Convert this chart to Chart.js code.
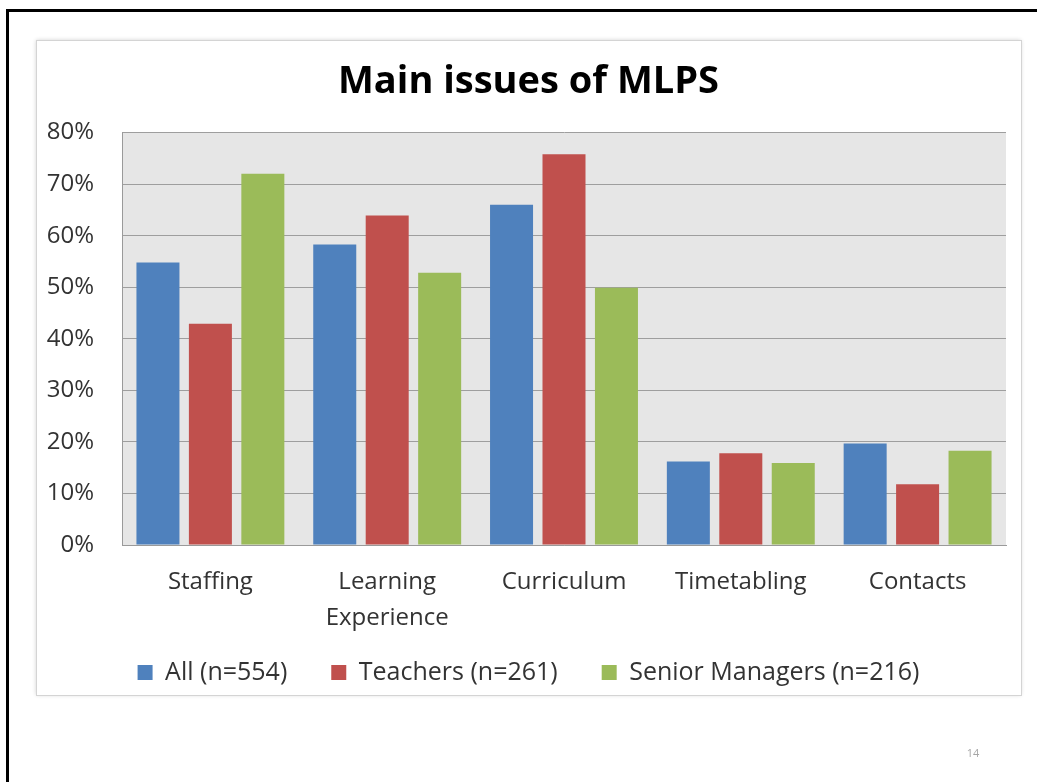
<!DOCTYPE html>
<html>
<head>
<title>Main issues of MLPS</title>
<script src="https://cdn.jsdelivr.net/npm/chart.js"></script>
<style>
  body { margin: 0; background: #fff; }
  #wrap { width: 1037px; height: 782px; position: relative; }
  #pageNo {
    position: absolute; left: 959px; top: 745px; width: 28px; text-align: center;
    font-family: "Open Sans", sans-serif; font-size: 11px; color: #a6a6a6;
  }
</style>
</head>
<body>
  <div id="wrap">
    <canvas id="issuesChart" width="1037" height="782"></canvas>
    <div id="pageNo">14</div>
  </div>

  <script>
    // Values (percent)
    const categories = [["Staffing"], ["Learning", "Experience"], ["Curriculum"], ["Timetabling"], ["Contacts"]];
    const allValues = [54.8, 58.3, 66, 16.2, 19.7];
    const teacherValues = [42.9, 63.9, 75.8, 17.8, 11.8];
    const managerValues = [72, 52.8, 49.9, 15.9, 18.3];
    const seriesNames = ["All (n=554)", "Teachers (n=261)", "Senior Managers (n=216)"];
    const yTicks = [0, 10, 20, 30, 40, 50, 60, 70, 80];

    const FONT = "'Open Sans', 'Noto Sans', sans-serif";

    // slide frame, chart box and grey plot background
    const backdrop = {
      id: 'backdrop',
      beforeDraw(chart) {
        const c = chart.ctx;
        const a = chart.chartArea;
        c.save();
        c.fillStyle = '#fff';
        c.fillRect(0, 0, chart.width, chart.height);

        // black slide outline (left + top only visible)
        c.fillStyle = '#000';
        c.fillRect(6, 9, 3, chart.height);
        c.fillRect(6, 9, chart.width, 3);

        // chart box with soft shadow
        c.shadowColor = 'rgba(0,0,0,0.18)';
        c.shadowBlur = 4;
        c.fillStyle = '#fff';
        c.fillRect(36, 40, 985, 655);
        c.shadowBlur = 0;
        c.strokeStyle = '#d4d4d4';
        c.lineWidth = 1;
        c.strokeRect(36.5, 40.5, 985, 655);

        c.fillStyle = '#e6e6e6';
        c.fillRect(a.left, a.top, a.right - a.left, a.bottom - a.top);
        c.restore();
      }
    };

    const ctx = document.getElementById("issuesChart").getContext("2d");

    const issuesChart = new Chart(ctx, {
      type: 'bar',
      data: {
        labels: categories,
        datasets: [
          { label: seriesNames[0], data: allValues, backgroundColor: '#4f81bd' },
          { label: seriesNames[1], data: teacherValues, backgroundColor: '#c0504d' },
          { label: seriesNames[2], data: managerValues, backgroundColor: '#9bbb59' }
        ]
      },
      options: {
        responsive: false,
        animation: false,
        layout: { padding: { left: 36, top: 40, right: 16, bottom: 87 } },
        datasets: {
          bar: { categoryPercentage: 0.89, barPercentage: 0.82, borderWidth: 0 }
        },
        plugins: {
          title: {
            display: true,
            text: 'Main issues of MLPS',
            color: '#000',
            font: { family: FONT, size: 38, weight: 'bold' },
            padding: { top: 19, bottom: 28 }
          },
          legend: {
            position: 'bottom',
            labels: {
              boxWidth: 15,
              boxHeight: 15,
              padding: 44,
              color: '#333',
              font: { family: FONT, size: 25 }
            }
          },
          tooltip: { enabled: false }
        },
        scales: {
          x: {
            grid: { display: false, drawTicks: false },
            border: { display: true, color: '#9a9a9a' },
            ticks: {
              color: '#333',
              padding: 19,
              maxRotation: 0,
              font: { family: FONT, size: 24, lineHeight: 1.5 }
            },
            afterFit: (s) => {
              s.height = 71;
              // two-line labels run into the legend's padding, don't clip them
              s._computeLabelArea = () => undefined;
            }
          },
          y: {
            min: 0,
            max: 80,
            afterBuildTicks: (s) => { s.ticks = yTicks.map(v => ({ value: v })); },
            grid: { color: '#9e9e9e', drawTicks: false },
            border: { display: true, color: '#9a9a9a' },
            ticks: {
              color: '#333',
              padding: 28,
              font: { family: FONT, size: 24 },
              callback: (v) => v + '%'
            },
            afterFit: (s) => { s.width = 86; }
          },
          yRight: {
            position: 'right',
            min: 0,
            max: 80,
            grid: { drawOnChartArea: false, drawTicks: false },
            border: { display: false },
            ticks: { display: false },
            afterFit: (s) => { s.width = 15; }
          }
        }
      },
      plugins: [backdrop]
    });
  </script>
</body>
</html>
